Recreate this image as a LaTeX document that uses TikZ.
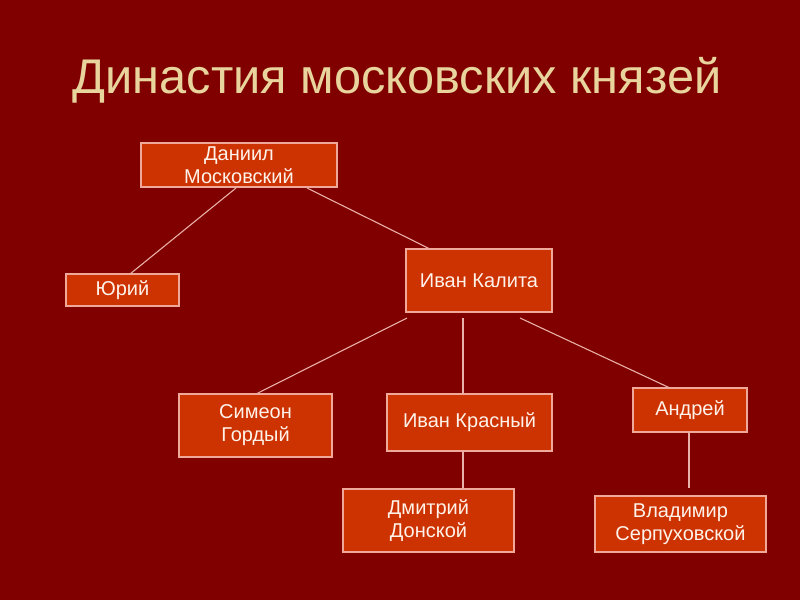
\documentclass[tikz,border=0pt]{standalone}
\usepackage{fontspec}
\setmainfont{Liberation Sans}
\definecolor{bgred}{HTML}{800000}
\definecolor{boxfill}{HTML}{CC3300}
\definecolor{boxline}{HTML}{F0A898}
\definecolor{linkcol}{HTML}{E8B0A8}
\definecolor{titlecol}{HTML}{E8D49C}
\definecolor{boxtext}{HTML}{FFF2EA}
\tikzset{
  person/.style={draw=boxline, fill=boxfill, line width=1.2pt, inner sep=0pt, outer sep=0pt,
    text=boxtext, align=center, font=\fontsize{20}{23}\selectfont},
  link/.style={draw=linkcol, line width=1.1pt}
}
\begin{document}
\begin{tikzpicture}[x=1pt,y=-1pt]
\fill[bgred] (0,0) rectangle (800,600);
\useasboundingbox (0,0) rectangle (800,600);
\node[text=titlecol, font=\fontsize{48.7}{52}\selectfont] (title) at (397,80) {Династия московских князей};
\node[person, minimum width=196pt, minimum height=44pt] (dan) at (239,165) {Даниил\\Московский};
\node[person, minimum width=113pt, minimum height=32pt] (yur) at (122.5,290) {Юрий};
\node[person, minimum width=146pt, minimum height=63pt] (kal) at (479,280.5) {Иван Калита};
\node[person, minimum width=153pt, minimum height=63pt] (sim) at (255.5,425.5) {Симеон\\Гордый};
\node[person, minimum width=165pt, minimum height=57pt] (kra) at (469.5,422.5) {Иван Красный};
\node[person, minimum width=114pt, minimum height=44pt] (and) at (690,410) {Андрей};
\node[person, minimum width=171pt, minimum height=63pt] (dmi) at (428.5,520.5) {Дмитрий\\Донской};
\node[person, minimum width=171pt, minimum height=56pt] (vla) at (680.5,524) {Владимир\\Серпуховской};
\draw[link] ([xshift=95pt,yshift=-1pt]dan.south west) -- ([xshift=64pt]yur.north west);
\draw[link] ([xshift=166pt,yshift=-1pt]dan.south west) -- ([xshift=24pt]kal.north west);
\draw[link] ([xshift=1pt,yshift=-6pt]kal.south west) -- ([xshift=77pt]sim.north west);
\draw[link] ([xshift=57pt,yshift=-6pt]kal.south west) -- ([xshift=76pt]kra.north west);
\draw[link] ([xshift=114pt,yshift=-6pt]kal.south west) -- ([xshift=37pt]and.north west);
\draw[link] ([xshift=76pt]kra.south west) -- ([xshift=120pt]dmi.north west);
\draw[link] ([xshift=56pt]and.south west) -- ([xshift=94pt,yshift=8pt]vla.north west);
\end{tikzpicture}
\end{document}
